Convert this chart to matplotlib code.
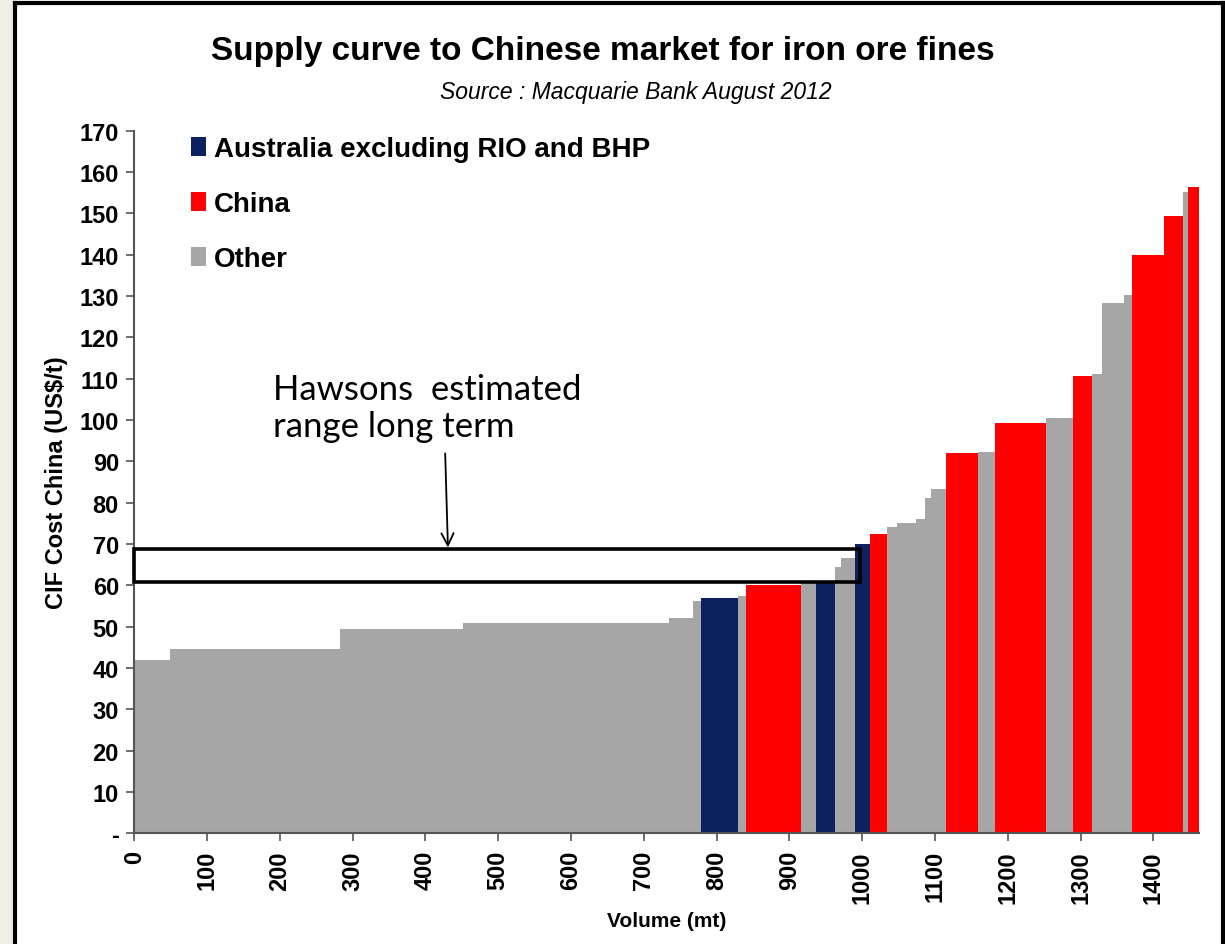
import numpy as np
import matplotlib
matplotlib.use("Agg")
import matplotlib.pyplot as plt
from matplotlib.patches import Patch, Rectangle

# supply curve segments, in order along the volume axis
volumes = [49, 234, 169, 283, 32, 12, 50, 12, 75, 21, 25, 9, 19, 21, 23, 14,
           26, 12, 9, 20, 44, 23, 70, 38, 26, 14, 29, 12, 44, 26, 6, 16]
costs = [42.0, 44.6, 49.5, 50.9, 52.0, 56.1, 57.0, 57.5, 60.2, 60.5, 61.0, 64.5,
         66.5, 70.1, 72.5, 74.2, 75.2, 76.0, 81.2, 83.2, 92.1, 92.3, 99.2, 100.4,
         110.7, 111.2, 128.3, 130.2, 140.0, 149.4, 155.2, 156.5]
sources = ["Other", "Other", "Other", "Other", "Other", "Other", "Australia", "Other",
           "China", "Other", "Australia", "Other", "Other", "Australia", "China", "Other",
           "Other", "Other", "Other", "Other", "China", "Other", "China", "Other",
           "China", "Other", "Other", "Other", "China", "China", "Other", "China"]

legend_labels = ["Australia excluding RIO and BHP", "China", "Other"]
colors = {"Australia": "#0b2160", "China": "#ff0000", "Other": "#a6a6a6"}

x_ticks = list(range(0, 1500, 100))
y_ticks = list(range(0, 180, 10))
y_tick_labels = ["-"] + [str(v) for v in y_ticks[1:]]

hawsons_low, hawsons_high = 60.7, 68.8
hawsons_right = 997

plt.rcParams["font.family"] = ["Liberation Sans", "DejaVu Sans"]

fig = plt.figure(figsize=(12.25, 9.45), dpi=100)
ax = fig.add_axes([0.1096, 0.1171, 0.8694, 0.7435])

lefts = np.concatenate([[0], np.cumsum(volumes)[:-1]])
ax.bar(lefts, costs, width=volumes, align="edge",
       color=[colors[s] for s in sources], linewidth=0, zorder=2)

ax.set_xlim(0, sum(volumes))
ax.set_ylim(0, 170)
ax.set_xticks(x_ticks)
ax.set_xticklabels([str(v) for v in x_ticks], rotation=90, fontsize=17, fontweight="bold")
ax.set_yticks(y_ticks)
ax.set_yticklabels(y_tick_labels, fontsize=17, fontweight="bold")
ax.tick_params(direction="out", length=6, width=1.2, color="#555555", pad=5)
ax.tick_params(axis="x", pad=6)

for side in ["top", "right"]:
    ax.spines[side].set_visible(False)
for side in ["left", "bottom"]:
    ax.spines[side].set_color("#555555")
    ax.spines[side].set_linewidth(1.5)

ax.set_xlabel("Volume (mt)", fontsize=15, fontweight="bold", labelpad=6)
ax.set_ylabel("CIF Cost China (US$/t)", fontsize=17, fontweight="bold", labelpad=8)

# Hawsons range box and note
ax.add_patch(Rectangle((0, hawsons_low), hawsons_right, hawsons_high - hawsons_low,
                       fill=False, edgecolor="black", linewidth=2.6, zorder=4,
                       clip_on=False))
ax.text(191, 103.0, "Hawsons  estimated\nrange long term", fontsize=25,
        family=["Lato", "DejaVu Sans"], va="center", ha="left", linespacing=1.2)
ax.annotate("", xy=(431, hawsons_high - 0.3), xytext=(427, 92.6),
            arrowprops=dict(arrowstyle="->", color="black", lw=1.3,
                            mutation_scale=22), zorder=5)

handles = [Patch(facecolor=colors[k], edgecolor="none") for k in ["Australia", "China", "Other"]]
ax.legend(handles, legend_labels, loc="upper left", bbox_to_anchor=(0.03, 1.028),
          frameon=False, prop={"size": 20, "weight": "bold"},
          handlelength=0.52, handleheight=0.66, handletextpad=0.3, labelspacing=1.05)

fig.text(0.492, 0.946, "Supply curve to Chinese market for iron ore fines",
         fontsize=24, fontweight="bold", ha="center", va="center")
fig.text(0.519, 0.902, "Source : Macquarie Bank August 2012",
         fontsize=16.5, style="italic", ha="center", va="center")

# outer frame of the slide
fig.patches.append(Rectangle((0, 0), 0.011, 1, transform=fig.transFigure,
                             facecolor="#f1eee8", edgecolor="none", zorder=0))
fig.add_artist(plt.Line2D([0.012, 0.012], [0, 0.996], color="black", lw=3,
                          transform=fig.transFigure))
fig.add_artist(plt.Line2D([0.012, 0.998], [0.996, 0.996], color="black", lw=3,
                          transform=fig.transFigure))
fig.add_artist(plt.Line2D([0.998, 0.998], [0, 0.996], color="black", lw=3,
                          transform=fig.transFigure))

fig.savefig("out.png", dpi=100)
